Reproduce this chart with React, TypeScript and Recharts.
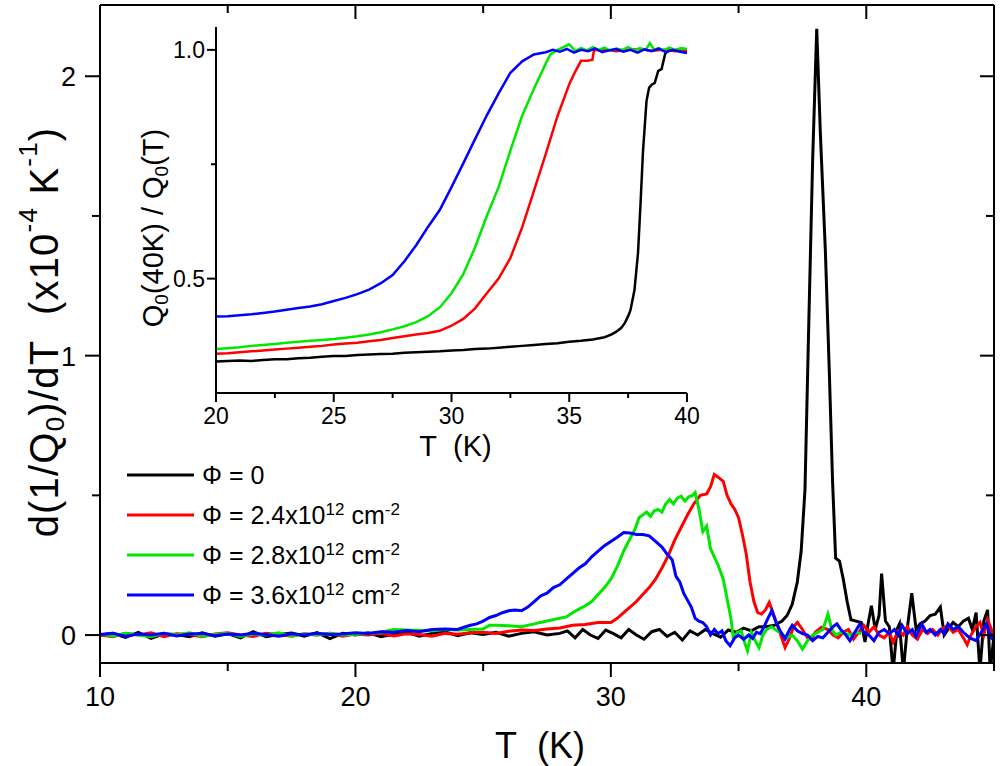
import React from 'react';
import { LineChart, Line, XAxis, YAxis, Legend, Label } from 'recharts';

// main panel: d(1/Q0)/dT (x10^-4 K^-1) against T (K)
const blackT = [10, 10.5, 11, 11.5, 12, 12.5, 13, 13.5, 14, 14.5, 15, 15.5, 16, 16.5, 17, 17.5, 18, 18.5, 19, 19.5, 20, 20.5, 21, 21.5, 22, 22.5, 23, 23.5, 24, 24.5, 25, 25.5, 26, 26.5, 27, 27.5, 28,
  28.3, 28.6, 28.9, 29.2, 29.5, 29.8, 30.1, 30.4, 30.7, 31, 31.3, 31.6, 31.9, 32.2, 32.5, 32.8, 33.1, 33.4, 33.7, 34, 34.3, 34.6, 34.9, 35.2, 35.5, 35.8, 36.1, 36.4, 36.7,
  36.9, 37.1, 37.3, 37.45, 37.6, 37.75, 37.9, 38.06, 38.2, 38.4, 38.55, 38.68, 38.8, 38.95, 39.1, 39.25, 39.4, 39.6, 39.8, 39.95, 40.05, 40.2, 40.35, 40.5, 40.6, 40.75, 40.9,
  41.05, 41.2, 41.3, 41.45, 41.6, 41.78, 41.95, 42.1, 42.3, 42.5, 42.7, 42.9, 43.05, 43.2, 43.4, 43.6, 43.8, 44, 44.15, 44.3, 44.45, 44.6, 44.75, 44.85, 45];
const blackV = [0, 0.006, -0.008, 0.01, -0.012, 0.004, 0.002, -0.006, 0.008, -0.004, 0.005, -0.01, 0.012, -0.006, 0.002, 0.007, -0.004, 0.009, -0.013, 0.006, 0, 0.008, -0.006, 0.004, 0.01, -0.004, 0.006, 0.012, -0.002, 0.008, 0.002, 0.01, -0.004, 0.006, 0.012, 0, 0.006,
  0.015, -0.01, 0.02, 0, -0.012, 0.018, 0.005, -0.01, 0.02, 0, -0.015, 0.012, 0.02, -0.005, 0.01, -0.018, 0.015, 0, 0.02, 0.005, -0.008, 0.018, 0.01, 0.025, 0.015, 0.03, 0.03, 0.035, 0.05,
  0.07, 0.11, 0.19, 0.3, 0.52, 1.12, 1.7, 2.17, 1.8, 1.37, 0.95, 0.55, 0.275, 0.265, 0.2, 0.12, 0.055, 0.05, 0.045, -0.025, 0.03, 0.105, 0.02, 0.07, 0.22, 0.05, 0.03,
  -0.13, 0.02, 0.04, -0.13, 0.02, 0.15, 0.02, 0.04, 0.05, 0.07, 0.075, 0.1, 0, 0.02, 0.045, 0.03, 0.05, 0.06, 0.02, 0.08, -0.13, 0.05, 0.09, -0.13, 0];

const redT = [10, 10.5, 11, 11.5, 12, 12.5, 13, 13.5, 14, 14.5, 15, 15.5, 16, 16.5, 17, 17.5, 18, 18.5, 19, 19.5, 20, 20.5, 21, 21.5, 22, 22.5, 23, 23.5, 24,
  24.5, 25, 25.5, 26, 26.5, 27, 27.5, 28, 28.5, 29, 29.5, 30,
  30.25, 30.5, 30.75, 31, 31.25, 31.5, 31.75, 32, 32.25, 32.5, 32.75, 33, 33.25, 33.5, 33.75, 33.9, 34.05, 34.2, 34.4, 34.55,
  34.7, 34.85, 35, 35.15, 35.3, 35.45, 35.6, 35.75, 35.9, 36.05, 36.2, 36.35, 36.5, 36.65, 36.82, 37, 37.15, 37.3, 37.5, 37.7,
  37.85, 38, 38.25, 38.5, 38.7, 38.9, 39.1, 39.3, 39.5, 39.7, 39.9, 40.1, 40.3, 40.5, 40.7, 40.9, 41.05, 41.25, 41.45, 41.6,
  41.8, 42, 42.2, 42.4, 42.6, 42.8, 43, 43.2, 43.4, 43.6, 43.8, 43.95, 44.1, 44.3, 44.45, 44.6, 44.75, 44.9, 45];
const redV = [0, -0.006, 0.006, 0, 0.008, -0.006, 0.005, 0.002, -0.006, 0.004, 0.008, 0, -0.005, 0.006, 0.002, -0.004, 0.005, 0, 0.006, -0.004, 0.004, 0, 0.006, -0.003, 0.005, 0.002, -0.004, 0.006, 0.003,
  0.008, 0.01, 0.006, 0.014, 0.018, 0.016, 0.022, 0.025, 0.035, 0.038, 0.045, 0.045,
  0.06, 0.08, 0.1, 0.12, 0.145, 0.17, 0.2, 0.24, 0.285, 0.34, 0.385, 0.43, 0.47, 0.5, 0.505, 0.53, 0.575, 0.565, 0.55, 0.5,
  0.47, 0.45, 0.42, 0.36, 0.29, 0.19, 0.12, 0.08, 0.075, 0.09, 0.117, 0.08, 0.04, 0, -0.045, -0.01, 0.03, 0.045, 0.02, -0.01,
  -0.015, 0.01, 0.028, 0.02, 0, -0.01, 0.01, 0.02, -0.015, 0.01, 0.035, 0.01, 0.03, 0, -0.01, 0.01, -0.025, 0.015, 0, 0.03,
  0, -0.015, 0.02, 0.005, 0.02, 0, 0.025, 0.035, 0.01, 0.02, -0.01, -0.035, 0, 0.03, 0.045, 0, 0.055, 0.02, -0.01];

const greenT = [10, 10.5, 11, 11.5, 12, 12.5, 13, 13.5, 14, 14.5, 15, 15.5, 16, 16.5, 17, 17.5, 18, 18.5, 19, 19.5, 20, 20.5, 21, 21.5, 22, 22.5, 23, 23.5, 24,
  24.5, 25, 25.25, 25.5, 26, 26.5, 27, 27.5, 28, 28.25, 28.5, 28.75, 29, 29.25, 29.5, 29.75, 30, 30.25, 30.5, 30.75,
  30.95, 31.1, 31.25, 31.4, 31.55, 31.7, 31.85, 32, 32.15, 32.3, 32.45, 32.6, 32.75, 32.9, 33.05, 33.2, 33.3, 33.45, 33.6, 33.75,
  33.9, 34.05, 34.2, 34.4, 34.55, 34.7, 34.8, 34.95, 35.1, 35.25, 35.35, 35.5, 35.65, 35.8, 35.95, 36.1, 36.3, 36.5, 36.7, 36.9,
  37.1, 37.3, 37.5, 37.7, 37.9, 38.1, 38.3, 38.5, 38.65, 38.8, 39, 39.2, 39.4, 39.6, 39.8];
const greenV = [0.004, -0.004, 0.006, 0, -0.006, 0.006, 0, 0.008, -0.004, 0.002, 0.006, -0.005, 0.004, 0, 0.008, -0.003, 0.004, 0, 0.006, 0, 0.003, 0.006, 0.01, 0.02, 0.018, 0.016, 0.015, 0.02, 0.018,
  0.02, 0.022, 0.035, 0.035, 0.033, 0.03, 0.04, 0.05, 0.06, 0.065, 0.08, 0.093, 0.105, 0.12, 0.145, 0.17, 0.2, 0.245, 0.3, 0.345,
  0.38, 0.42, 0.43, 0.44, 0.425, 0.445, 0.45, 0.44, 0.47, 0.485, 0.47, 0.49, 0.497, 0.48, 0.495, 0.5, 0.51, 0.45, 0.37, 0.39,
  0.31, 0.28, 0.25, 0.2, 0.13, 0.06, -0.014, 0.01, 0.015, -0.03, -0.056, 0.01, -0.02, -0.045, 0, 0.02, 0.03, 0.015, 0.005, -0.01,
  0, -0.02, -0.05, -0.02, 0, 0.01, 0.02, 0.075, 0.02, 0, 0.01, 0.005, 0, 0.01, 0.005];

const blueT = [10, 10.5, 11, 11.5, 12, 12.5, 13, 13.5, 14, 14.5, 15, 15.5, 16, 16.5, 17, 17.5, 18, 18.5, 19, 19.5, 20, 20.5, 21, 21.5, 22, 22.5, 23, 23.5, 24,
  24.25, 24.5, 24.75, 25, 25.25, 25.5, 25.75, 26, 26.25, 26.5, 26.75, 27, 27.25, 27.5, 27.75, 28, 28.25, 28.5, 28.75, 29,
  29.25, 29.5, 29.75, 30, 30.25, 30.5, 30.75, 31, 31.25, 31.5, 31.75, 32, 32.2, 32.4, 32.55, 32.7, 32.85, 33, 33.15, 33.3,
  33.45, 33.6, 33.75, 33.9, 34.05, 34.2, 34.35, 34.5, 34.67, 34.85, 35, 35.2, 35.4, 35.55, 35.7, 35.85, 36, 36.15, 36.3, 36.45,
  36.6, 36.82, 37, 37.1, 37.3, 37.5, 37.7, 37.9, 38.1, 38.3, 38.5, 38.7, 38.85, 39, 39.2, 39.36, 39.55, 39.75, 39.9, 40.1,
  40.3, 40.5, 40.7, 40.9, 41.1, 41.25, 41.4, 41.6, 41.8, 41.95, 42.17, 42.35, 42.5, 42.7, 42.9, 43.05, 43.2, 43.4, 43.6, 43.8,
  44.05, 44.3, 44.5, 44.7, 44.9, 45];
const blueV = [0.002, 0.006, -0.004, 0.004, 0, 0.006, -0.003, 0.004, 0.006, -0.002, 0.004, 0, 0.006, 0.002, -0.004, 0.005, 0, 0.006, 0.002, 0.004, 0.008, 0.006, 0.012, 0.01, 0.016, 0.012, 0.02, 0.022, 0.02,
  0.028, 0.035, 0.04, 0.05, 0.063, 0.07, 0.08, 0.087, 0.09, 0.087, 0.1, 0.12, 0.14, 0.15, 0.17, 0.18, 0.2, 0.22, 0.24, 0.255,
  0.28, 0.3, 0.32, 0.335, 0.35, 0.367, 0.365, 0.36, 0.36, 0.355, 0.335, 0.315, 0.29, 0.27, 0.21, 0.19, 0.15, 0.125, 0.1, 0.06,
  0.05, 0.045, 0.03, 0, 0.02, 0.005, 0.015, -0.02, -0.038, -0.01, 0, -0.015, 0, -0.012, 0.01, 0.005, 0.03, 0.06, 0.087, 0.05,
  0.02, -0.014, 0.02, 0.035, 0.015, 0.005, 0, -0.02, -0.005, -0.01, 0.01, 0.03, 0.04, 0.02, 0, -0.02, 0.01, 0.04, 0.01, 0,
  -0.02, 0.01, 0.02, 0.005, 0.02, 0, 0.035, 0.005, 0.02, -0.005, 0.04, 0.01, 0.02, 0, 0.02, 0.005, 0.04, 0.02, 0.03, 0.01,
  -0.01, -0.02, 0.01, 0.04, -0.01, 0];

// inset: Q0(40K) / Q0(T) against T (K)
const insetBlackT = [20, 20.5, 21, 21.5, 22, 22.5, 23, 23.5, 24, 24.5, 25, 25.5, 26, 26.5, 27, 27.5, 28, 28.5, 29, 29.5, 30, 30.5, 31, 31.5, 32, 32.5, 33, 33.5, 34, 34.5, 35, 35.5, 36, 36.5,
  36.8, 37, 37.2, 37.35, 37.5, 37.6, 37.77, 37.92, 38.03, 38.13, 38.28, 38.39, 38.5, 38.63, 38.78, 38.92, 39.07, 39.21, 39.4, 39.6, 39.8, 40];
const insetBlackV = [0.319, 0.32, 0.321, 0.32, 0.322, 0.324, 0.324, 0.326, 0.327, 0.329, 0.331, 0.331, 0.333, 0.334, 0.335, 0.336, 0.338, 0.339, 0.34, 0.341, 0.343, 0.344, 0.346, 0.347, 0.349, 0.351, 0.353, 0.355, 0.357, 0.359, 0.362, 0.364, 0.367, 0.372,
  0.378, 0.384, 0.392, 0.402, 0.418, 0.431, 0.475, 0.556, 0.667, 0.777, 0.888, 0.917, 0.924, 0.928, 0.954, 0.958, 0.991, 0.999, 0.998, 1, 0.997, 1];

const insetRedT = [20, 20.5, 21, 21.5, 22, 22.5, 23, 23.5, 24, 24.5, 25, 25.5, 26, 26.5, 27, 27.5, 28, 28.5, 29, 29.5, 30, 30.5, 31, 31.5, 32, 32.5, 33, 33.5, 34, 34.5, 35,
  35.25, 35.5, 35.75, 35.98, 36.05, 36.5, 37, 37.5, 38, 38.5, 39, 39.5, 40];
const insetRedV = [0.336, 0.337, 0.339, 0.341, 0.343, 0.345, 0.347, 0.349, 0.351, 0.353, 0.356, 0.358, 0.36, 0.363, 0.366, 0.37, 0.374, 0.378, 0.381, 0.386, 0.397, 0.412, 0.435, 0.468, 0.5, 0.545, 0.612, 0.692, 0.772, 0.855, 0.925,
  0.952, 0.976, 0.976, 0.978, 0.999, 1, 0.997, 1, 1.002, 0.998, 1, 0.997, 0.998];

const insetGreenT = [20, 20.5, 21, 21.5, 22, 22.5, 23, 23.5, 24, 24.5, 25, 25.5, 26, 26.5, 27, 27.5, 28, 28.5, 29, 29.5, 30, 30.5, 31, 31.5, 32, 32.5, 33, 33.5, 34,
  34.2, 34.5, 34.75, 35, 35.25, 35.5, 35.75, 36, 36.25, 36.5, 36.75, 37, 37.25, 37.5, 37.75, 38, 38.25, 38.42, 38.6, 38.8, 39, 39.25, 39.5, 39.75, 40];
const insetGreenV = [0.346, 0.348, 0.35, 0.353, 0.355, 0.357, 0.36, 0.362, 0.364, 0.366, 0.368, 0.371, 0.374, 0.378, 0.383, 0.389, 0.396, 0.405, 0.418, 0.437, 0.468, 0.51, 0.568, 0.637, 0.7, 0.78, 0.856, 0.915, 0.97,
  0.99, 1, 1.006, 1.012, 0.998, 1.004, 0.999, 1.006, 1, 1.005, 0.998, 1.003, 1, 1.006, 0.999, 1.004, 1, 1.015, 1.001, 1.004, 0.999, 1.005, 1, 1.004, 1.002];

const insetBlueT = [20, 20.5, 21, 21.5, 22, 22.5, 23, 23.5, 24, 24.5, 25, 25.5, 26, 26.5, 27, 27.5, 28, 28.5, 29, 29.5, 30, 30.5, 31, 31.5, 32, 32.5, 33, 33.5, 34,
  34.3, 34.6, 34.9, 35.2, 35.5, 35.8, 36.1, 36.4, 36.7, 37, 37.3, 37.6, 37.9, 38.2, 38.5, 38.8, 39.1, 39.4, 39.7, 40];
const insetBlueV = [0.417, 0.418, 0.42, 0.422, 0.425, 0.428, 0.432, 0.436, 0.439, 0.444, 0.451, 0.458, 0.466, 0.476, 0.49, 0.508, 0.538, 0.573, 0.613, 0.65, 0.7, 0.752, 0.805, 0.857, 0.905, 0.95, 0.975, 0.99, 0.995,
  1, 0.996, 1.002, 0.994, 1, 0.997, 1.003, 0.995, 0.999, 1.002, 0.996, 1, 0.994, 1.001, 0.997, 1.003, 0.995, 1, 0.996, 0.993];

const fluences = ['0', '2.4', '2.8', '3.6'];
const mainXTicks = [10, 15, 20, 25, 30, 35, 40, 45];
const mainYTicks = [0, 0.5, 1, 1.5, 2];
const insetXTicks = [20, 22.5, 25, 27.5, 30, 32.5, 35, 37.5, 40];
const insetYTicks = [0.5, 0.75, 1];

const zip = (t: number[], v: number[]) => t.map((x, i) => ({ T: x, v: v[i] }));

const mainData = [zip(blackT, blackV), zip(redT, redV), zip(greenT, greenV), zip(blueT, blueV)];
const insetData = [zip(insetBlackT, insetBlackV), zip(insetRedT, insetRedV), zip(insetGreenT, insetGreenV), zip(insetBlueT, insetBlueV)];
const colors = ['#000000', '#ff0000', '#00e800', '#0000ff'];
// the top / right frame axes share the main scales; each needs one series so it is drawn
const mainXIds = ['top', 0, 0, 0];
const mainYIds = [0, 'right', 0, 0];

const FONT = '"Liberation Sans", Arial, sans-serif';
const axisStroke = { stroke: '#000', strokeWidth: 2 };

// ticks are drawn by hand so that minor ticks can be shorter and unlabeled
const MainBottomTick = (p: any) => {
  const v = p.payload.value;
  const major = v % 10 === 0;
  return (
    <g>
      <line x1={p.x} x2={p.x} y1={p.y} y2={p.y + (major ? 14 : 8)} stroke="#000" strokeWidth={2} />
      {major && <text x={p.x} y={p.y + 43} textAnchor="middle" fontSize={27} fill="#000">{v}</text>}
    </g>
  );
};
const MainTopTick = (p: any) => {
  const major = p.payload.value % 10 === 0;
  return <line x1={p.x} x2={p.x} y1={p.y} y2={p.y + (major ? 14 : 8)} stroke="#000" strokeWidth={2} />;
};
const MainLeftTick = (p: any) => {
  const v = p.payload.value;
  const major = v % 1 === 0;
  return (
    <g>
      <line x1={p.x - (major ? 15 : 8)} x2={p.x} y1={p.y} y2={p.y} stroke="#000" strokeWidth={2} />
      {major && <text x={p.x - 24} y={p.y + 10} textAnchor="end" fontSize={27} fill="#000">{v}</text>}
    </g>
  );
};
const MainRightTick = (p: any) => {
  const major = p.payload.value % 1 === 0;
  return <line x1={p.x} x2={p.x - (major ? 14 : 8)} y1={p.y} y2={p.y} stroke="#000" strokeWidth={2} />;
};
const InsetBottomTick = (p: any) => {
  const v = p.payload.value;
  const major = v % 5 === 0;
  return (
    <g>
      <line x1={p.x} x2={p.x} y1={p.y} y2={p.y + (major ? 9 : 5)} stroke="#000" strokeWidth={2} />
      {major && <text x={p.x} y={p.y + 31} textAnchor="middle" fontSize={23} fill="#000">{v}</text>}
    </g>
  );
};
const InsetLeftTick = (p: any) => {
  const v = p.payload.value;
  const major = v === 0.5 || v === 1;
  return (
    <g>
      <line x1={p.x - (major ? 9 : 5)} x2={p.x} y1={p.y} y2={p.y} stroke="#000" strokeWidth={2} />
      {major && <text x={p.x - 11} y={p.y + 8} textAnchor="end" fontSize={23} fill="#000">{v.toFixed(1)}</text>}
    </g>
  );
};

const MainYTitle = ({ viewBox }: any) => {
  const cx = viewBox.x + 44;
  const cy = viewBox.y + viewBox.height / 2 - 2;
  return (
    <text x={cx} y={cy} transform={`rotate(-90, ${cx}, ${cy})`} textAnchor="middle" dominantBaseline="central"
      fontSize={40} letterSpacing={1.2} fill="#000">
      d(1/Q<tspan dy={11} fontSize={26}>0</tspan>
      <tspan dy={-11}>)/dT{'\u00a0\u00a0'}(x10</tspan>
      <tspan dy={-16} fontSize={26}>-4</tspan>
      <tspan dy={16}>{'\u00a0'}K</tspan>
      <tspan dy={-16} fontSize={26}>-1</tspan>
      <tspan dy={16}>)</tspan>
    </text>
  );
};
const MainXTitle = ({ viewBox }: any) => (
  <text x={viewBox.x + viewBox.width / 2 - 7} y={viewBox.y + 95} textAnchor="middle" fontSize={36} fill="#000">
    T{'\u00a0\u00a0'}(K)
  </text>
);
const InsetYTitle = ({ viewBox }: any) => {
  const cx = viewBox.x + 17;
  const cy = 228;
  return (
    <text x={cx} y={cy} transform={`rotate(-90, ${cx}, ${cy})`} textAnchor="middle" dominantBaseline="central" fontSize={29} fill="#000">
      Q<tspan dy={8} fontSize={19}>0</tspan>
      <tspan dy={-8}>(40K) / Q</tspan>
      <tspan dy={8} fontSize={19}>0</tspan>
      <tspan dy={-8}>(T)</tspan>
    </text>
  );
};
const InsetXTitle = ({ viewBox }: any) => (
  <text x={viewBox.x + viewBox.width / 2 + 4} y={viewBox.y + 63} textAnchor="middle" fontSize={29} fill="#000">
    T{'\u00a0\u00a0'}(K)
  </text>
);

const renderLegend = ({ payload }: any) => (
  <div style={{ fontSize: 25, color: '#000', fontFamily: FONT }}>
    {(payload || []).map((entry: any, i: number) => (
      <div key={i} style={{ display: 'flex', alignItems: 'center', height: 40 }}>
        <svg width={67} height={10}>
          <line x1={0} y1={5} x2={67} y2={5} stroke={entry.color} strokeWidth={3} />
        </svg>
        <span style={{ marginLeft: 8, whiteSpace: 'nowrap' }}>
          Φ = {fluences[i]}
          {i > 0 && (
            <>
              x10<span style={{ fontSize: 17, verticalAlign: 'super' }}>12</span> cm
              <span style={{ fontSize: 17, verticalAlign: 'super' }}>-2</span>
            </>
          )}
        </span>
      </div>
    ))}
  </div>
);

export default function App() {
  return (
    <div style={{ position: 'absolute', left: 0, top: 0, width: 1000, height: 766, background: '#fff', fontFamily: FONT }}>
      <div style={{ position: 'absolute', left: 0, top: 0 }}>
        <LineChart width={1000} height={766} margin={{ top: 4, right: 5, bottom: 0, left: 0 }}>
          <XAxis type="number" dataKey="T" domain={[10, 45]} ticks={mainXTicks} interval={0} height={103}
            tickSize={0} tickMargin={0} tickLine={false} tick={MainBottomTick} axisLine={axisStroke} allowDataOverflow>
            <Label content={MainXTitle} />
          </XAxis>
          <XAxis xAxisId="top" orientation="top" type="number" dataKey="T" domain={[10, 45]} ticks={mainXTicks} interval={0} height={1}
            tickSize={0} tickMargin={0} tickLine={false} tick={MainTopTick} axisLine={axisStroke} allowDataOverflow />
          <YAxis type="number" domain={[-0.1, 2.255]} ticks={mainYTicks} interval={0} width={100}
            tickSize={0} tickMargin={0} tickLine={false} tick={MainLeftTick} axisLine={axisStroke} allowDataOverflow>
            <Label content={MainYTitle} />
          </YAxis>
          <YAxis yAxisId="right" orientation="right" type="number" domain={[-0.1, 2.255]} ticks={mainYTicks} interval={0} width={1}
            tickSize={0} tickMargin={0} tickLine={false} tick={MainRightTick} axisLine={axisStroke} allowDataOverflow />
          <Legend layout="vertical" align="center" verticalAlign="middle" content={renderLegend}
            wrapperStyle={{ left: 127, top: 455, width: 330 }} />
          {mainData.map((d, i) => (
            <Line key={i} data={d} dataKey="v" name={`Φ = ${fluences[i]}`} type="linear" stroke={colors[i]}
              xAxisId={mainXIds[i]} yAxisId={mainYIds[i]}
              strokeWidth={3} dot={false} activeDot={false} isAnimationActive={false} />
          ))}
        </LineChart>
      </div>
      <div style={{ position: 'absolute', left: 0, top: 0 }}>
        <LineChart width={700} height={480} margin={{ top: 27, right: 13, bottom: 20, left: 136 }}>
          <XAxis type="number" dataKey="T" domain={[20, 40]} ticks={insetXTicks} interval={0} height={67}
            tickSize={0} tickMargin={0} tickLine={false} tick={InsetBottomTick} axisLine={axisStroke} allowDataOverflow>
            <Label content={InsetXTitle} />
          </XAxis>
          <YAxis type="number" domain={[0.25, 1.05]} ticks={insetYTicks} interval={0} width={80}
            tickSize={0} tickMargin={0} tickLine={false} tick={InsetLeftTick} axisLine={axisStroke} allowDataOverflow>
            <Label content={InsetYTitle} />
          </YAxis>
          {insetData.map((d, i) => (
            <Line key={i} data={d} dataKey="v" type="linear" stroke={colors[i]}
              strokeWidth={2.5} dot={false} activeDot={false} isAnimationActive={false} />
          ))}
        </LineChart>
      </div>
    </div>
  );
}
